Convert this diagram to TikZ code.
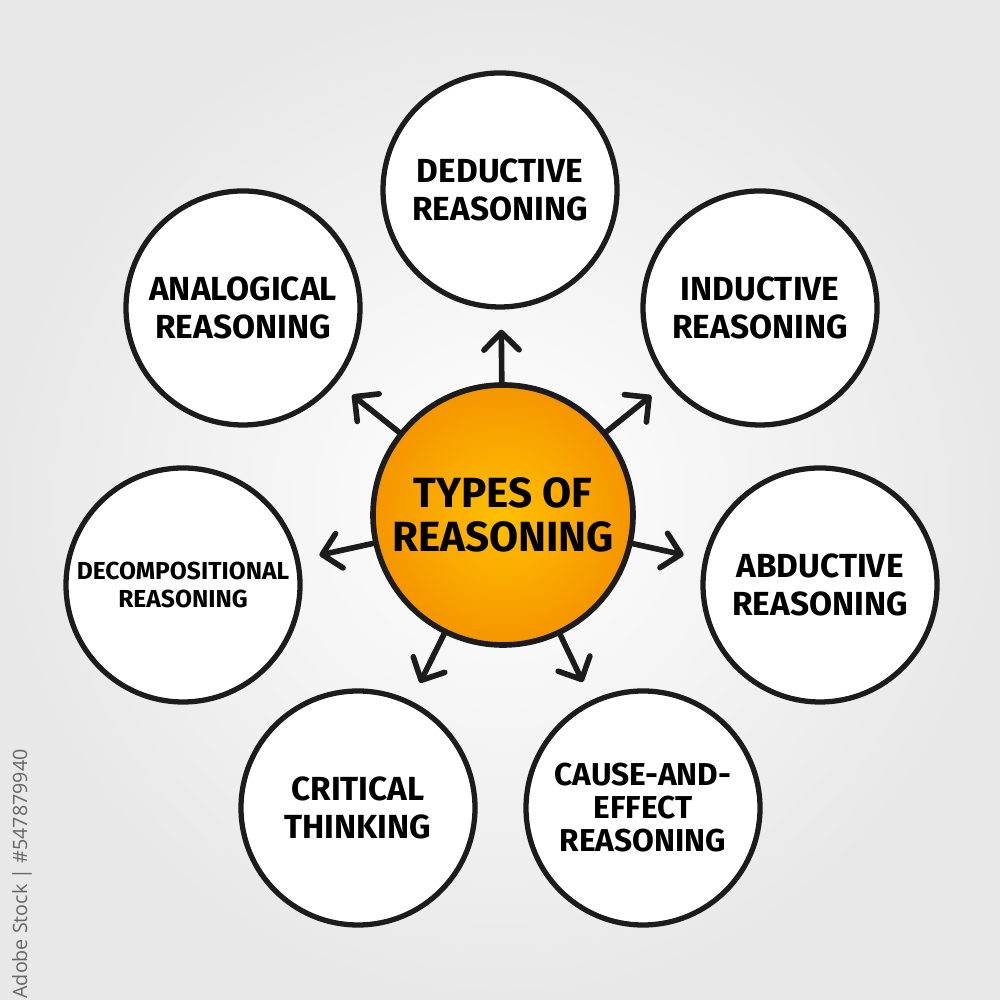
\documentclass[tikz,border=0pt]{standalone}
\usepackage{fontspec}
\setmainfont{Fira Sans}
\newfontfamily\stockfont{Open Sans}
\usetikzlibrary{
  arrows.meta,  % Straight Barb 箭头
  positioning   % 节点相对定位
}
\definecolor{inkblack}{HTML}{1C1C1C}
\definecolor{hubinner}{HTML}{FFC000}
\definecolor{hubouter}{HTML}{F59500}
\tikzset{
  topic circle/.style={
    circle,
    draw=inkblack,
    line width=1.5pt,
    fill=white,
    minimum size=2.34cm,
    inner sep=0pt,
    align=center,
    font=\fontsize{9.5}{10.6}\selectfont\bfseries
  },
  hub circle/.style={
    circle,
    draw=inkblack,
    line width=1.6pt,
    inner color=hubinner,
    outer color=hubouter,
    minimum size=2.6cm,
    inner sep=0pt,
    align=center,
    font=\fontsize{12}{12.4}\selectfont\bfseries
  },
  branch arrow/.style={
    -{Straight Barb[length=5pt,width=10pt,round]},
    line width=1.6pt,
    line cap=round,
    color=inkblack,
    shorten >=0.2cm
  }
}

\begin{document}
\begin{tikzpicture}
  % 1. 背景：中间白、四周浅灰
  \useasboundingbox (0,0) rectangle (10,10);
  \fill[inner color=white, outer color=black!9] (0,0) rectangle (10,10);

  % 2. 中心圆
  \node[hub circle] (hub) at (5.03,4.85) {TYPES OF\\REASONING};

  % 3. 周围七个圆
  \node[topic circle] (deductive) at (5.00,8.10) {DEDUCTIVE\\REASONING};
  \node[topic circle] (inductive) at (7.60,6.92) {INDUCTIVE\\REASONING};
  \node[topic circle] (abductive) at (8.20,4.15) {ABDUCTIVE\\REASONING};
  \node[topic circle, font=\fontsize{9}{9.4}\selectfont\bfseries] (cause) at (6.43,1.92) {CAUSE-AND-\\EFFECT\\REASONING};
  \node[topic circle] (critical) at (3.58,1.92) {CRITICAL\\THINKING};
  \node[topic circle, font=\fontsize{7}{8}\selectfont\bfseries] (decomp) at (1.83,4.15) {DECOMPOSITIONAL\\REASONING};
  \node[topic circle] (analogical) at (2.43,6.92) {ANALOGICAL\\REASONING};

  % 4. 从中心圆指向各圆的箭头
  \foreach \target in {deductive, inductive, abductive, cause, critical, decomp, analogical}
    \draw[branch arrow] (hub) -- (\target);

  % 5. 左侧竖排水印
  \node[rotate=90, text=black!60, font=\stockfont\fontsize{5.6}{6}\selectfont] (stock) at (0.22,1.26) {Adobe Stock | \#547879940};
\end{tikzpicture}
\end{document}
